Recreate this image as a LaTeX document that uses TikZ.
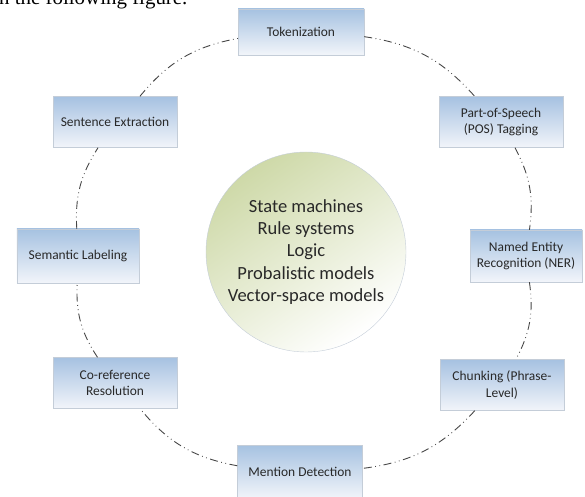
\documentclass[tikz,border=0pt]{standalone}
\usepackage{fontspec}
\setmainfont{Liberation Serif}
\newfontfamily\boxfont{Carlito}
\usepackage{tikz}
\usetikzlibrary{positioning, shapes}
\usetikzlibrary{arrows.meta}

\definecolor{boxtop}{RGB}{166,194,225}
\definecolor{boxbottom}{RGB}{242,245,250}
\definecolor{boxline}{RGB}{196,205,216}
\definecolor{ballgreen}{RGB}{206,217,168}
\definecolor{ringline}{RGB}{70,70,70}
\definecolor{inktext}{RGB}{40,40,40}

\begin{document}
\begin{tikzpicture}[x=1bp, y=-1bp]
            \tikzset{stage/.style = {draw=boxline, top color=boxtop, bottom color=boxbottom,
                inner sep=2pt, align=center, text=inktext,
                font=\boxfont\fontsize{13.5}{16.5}\selectfont}}
            \tikzset{ring/.style = {ringline, line width=0.9pt, dash pattern=on 8pt off 3.5pt on 0.8pt off 3.5pt on 0.8pt off 3.5pt}}

            \useasboundingbox (0,0) rectangle (585,497);
            \clip (0,0) rectangle (585,497);

            \node[anchor=base west, font=\fontsize{21}{24}\selectfont, inner sep=0pt] (intro) at (-1,5) {n the following figure.};

            % core
            \node[circle, draw=boxline, minimum size=200bp, inner sep=0pt,
                  top color=ballgreen, bottom color=white, shading angle=35,
                  align=center, text=inktext, font=\boxfont\fontsize{18.6}{22.5}\selectfont]
                  (core) at (306,252) {State machines\\Rule systems\\Logic\\Probalistic models\\Vector-space models};

            % stages
            \node[stage, minimum width=126bp, minimum height=46bp] (tok) at (301,32) {Tokenization};
            \node[stage, minimum width=124bp, minimum height=51bp] (pos) at (501,122) {Part-of-Speech\\(POS) Tagging};
            \node[stage, minimum width=112bp, minimum height=52bp] (ner) at (526,256) {Named Entity\\Recognition (NER)};
            \node[stage, minimum width=124bp, minimum height=51bp] (chunk) at (502,385) {Chunking (Phrase-\\Level)};
            \node[stage, minimum width=125bp, minimum height=54bp] (mention) at (300,472) {Mention Detection};
            \node[stage, minimum width=124bp, minimum height=51bp] (coref) at (115,383) {Co-reference\\Resolution};
            \node[stage, minimum width=122bp, minimum height=54bp] (semantic) at (78,256) {Semantic Labeling};
            \node[stage, minimum width=124bp, minimum height=51bp] (sentence) at (115,122) {Sentence Extraction};

            \draw[ring] (tok) to[bend left=20] (pos);
            \draw[ring] (pos) to[bend left=18] (ner);
            \draw[ring] (ner) to[bend left=18] (chunk);
            \draw[ring] (chunk) to[bend left=20] (mention);
            \draw[ring] (mention) to[bend left=20] (coref);
            \draw[ring] (coref) to[bend left=18] (semantic);
            \draw[ring] (semantic) to[bend left=18] (sentence);
            \draw[ring] (sentence) to[bend left=20] (tok);

        \end{tikzpicture}
\end{document}
